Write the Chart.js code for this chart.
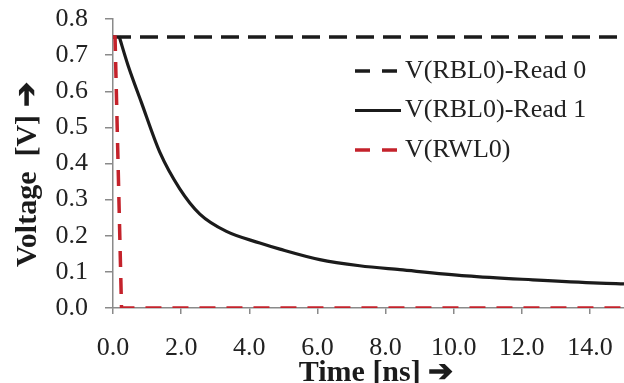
<!DOCTYPE html>
<html>
<head>
<meta charset="utf-8">
<script src="https://cdn.jsdelivr.net/npm/chart.js@4.4.0/dist/chart.umd.min.js"></script>
<style>
  html, body { margin: 0; padding: 0; background: #fff; }
  #wrap { width: 624px; height: 383px; }
</style>
</head>
<body>
<div id="wrap"><canvas id="c"></canvas></div>
<script>
// time in ns, voltage in V
var read0Time = [0, 15];
var read0Volt = [0.75, 0.75];

var read1Time = [0.18, 0.44, 0.83, 1.38, 1.96, 2.55, 3.33, 4.31, 4.9, 6.07, 7.24, 8.42, 10.37, 12.32, 14.28, 15];
var read1Volt = [0.752, 0.672, 0.57, 0.43, 0.33, 0.26, 0.212, 0.18, 0.163, 0.134, 0.117, 0.106, 0.089, 0.078, 0.069, 0.067];

var rwlTime = [0, 0.06, 0.25, 15];
var rwlVolt = [0.75, 0.75, 0, 0];

var seriesNames = ['V(RBL0)-Read 0', 'V(RBL0)-Read 1', 'V(RWL0)'];
var xTickValues = [0, 2, 4, 6, 8, 10, 12, 14];

var SERIF = '"Liberation Serif", "Times New Roman", serif';
var BLACK = '#1b1b1b';
var RED = '#c4222b';
var AXIS = '#8a8a8a';

function toPoints(xs, ys) {
  return xs.map(function (x, i) { return { x: x, y: ys[i] }; });
}

// legend drawn inside the plot, like the original
var innerLegend = {
  id: 'innerLegend',
  afterDatasetsDraw: function (chart, args, opts) {
    var ctx = chart.ctx;
    var area = chart.chartArea;
    var x0 = area.left + opts.left;
    ctx.save();
    chart.data.datasets.forEach(function (ds, i) {
      var y = area.top + opts.top + i * opts.rowGap;
      ctx.beginPath();
      ctx.strokeStyle = ds.borderColor;
      ctx.lineWidth = ds.borderWidth;
      ctx.setLineDash(ds.borderDash ? [15, 12] : []);
      ctx.moveTo(x0, y);
      ctx.lineTo(x0 + opts.lineLength, y);
      ctx.stroke();
      ctx.setLineDash([]);
      ctx.fillStyle = '#222';
      ctx.font = opts.fontSize + 'px ' + SERIF;
      ctx.textBaseline = 'middle';
      ctx.textAlign = 'left';
      ctx.fillText(ds.label, x0 + opts.lineLength + 4, y);
    });
    ctx.restore();
  }
};

var ctx = document.getElementById('c').getContext('2d');
new Chart(ctx, {
  type: 'line',
  data: {
    datasets: [
      {
        label: seriesNames[0],
        data: toPoints(read0Time, read0Volt),
        borderColor: BLACK,
        borderWidth: 3.5,
        borderDash: [18, 9],
        pointRadius: 0,
        order: 3
      },
      {
        label: seriesNames[1],
        data: toPoints(read1Time, read1Volt),
        borderColor: BLACK,
        borderWidth: 3.2,
        cubicInterpolationMode: 'monotone',
        pointRadius: 0,
        order: 2
      },
      {
        label: seriesNames[2],
        data: toPoints(rwlTime, rwlVolt),
        borderColor: RED,
        borderWidth: 3.5,
        borderDash: [16, 11],
        pointRadius: 0,
        order: 1
      }
    ]
  },
  options: {
    responsive: true,
    maintainAspectRatio: false,
    animation: false,
    layout: { autoPadding: false, padding: { top: 19, right: 0, left: 0, bottom: 0 } },
    plugins: {
      legend: { display: false },
      tooltip: { enabled: false },
      innerLegend: { left: 242, top: 52, rowGap: 39.5, lineLength: 46, fontSize: 26 }
    },
    scales: {
      x: {
        type: 'linear',
        min: 0,
        max: 15,
        afterFit: function (scale) {
          scale.height = 75;
          scale.paddingLeft = 0;
          scale.paddingRight = 0;
        },
        afterBuildTicks: function (scale) {
          scale.ticks = xTickValues.map(function (v) { return { value: v }; });
        },
        border: { color: AXIS, width: 1.5 },
        grid: { drawOnChartArea: false, drawTicks: true, tickLength: 6, color: AXIS, lineWidth: 1.5 },
        ticks: {
          padding: 19,
          color: '#222',
          autoSkip: false,
          font: { family: SERIF, size: 26 },
          maxRotation: 0,
          callback: function (v) { return Number(v).toFixed(1); }
        },
        title: {
          display: true,
          text: '  Time [ns] ➔',
          color: '#1b1b1b',
          padding: 0,
          font: { family: SERIF, size: 30, weight: 'bold', lineHeight: '20px' }
        }
      },
      y: {
        min: 0,
        max: 0.8,
        afterFit: function (scale) {
          scale.width = 113;
          scale.paddingTop = 0;
          scale.paddingBottom = 0;
        },
        border: { color: AXIS, width: 1.5 },
        grid: { drawOnChartArea: false, drawTicks: true, tickLength: 8, color: AXIS, lineWidth: 1.5 },
        ticks: {
          stepSize: 0.1,
          padding: 17,
          color: '#222',
          font: { family: SERIF, size: 26 },
          callback: function (v) { return v.toFixed(1); }
        },
        title: {
          display: true,
          text: 'Voltage  [V] ➔   ',
          color: '#1b1b1b',
          padding: 0,
          font: { family: SERIF, size: 30, weight: 'bold', lineHeight: '56px' }
        }
      }
    }
  },
  plugins: [innerLegend]
});
</script>
</body>
</html>
